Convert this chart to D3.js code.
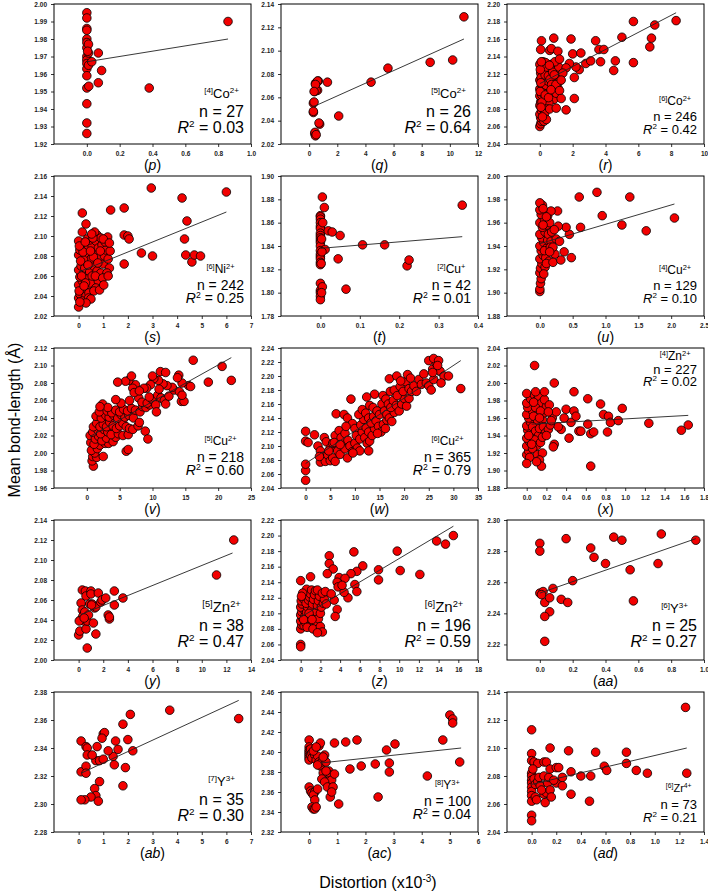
<!DOCTYPE html>
<html><head><meta charset="utf-8">
<script src="https://cdn.jsdelivr.net/npm/d3@7"></script>
<style>html,body{margin:0;padding:0;background:#fff;}svg{display:block;}</style>
</head><body>
<svg id="chart" width="708" height="893"></svg>
<script>
// ---------- data ----------
const panelIds = ['p','q','r','s','t','u','v','w','x','y','z','aa','ab','ac','ad'];
const coordNums = ['4','5','6','6','2','4','5','6','4','5','6','6','7','8','6'];
const elements = ['Co','Co','Co','Ni','Cu','Cu','Cu','Cu','Zn','Zn','Zn','Y','Y','Y','Zr'];
const charges = ['2+','2+','2+','2+','+','2+','2+','2+','2+','2+','2+','3+','3+','3+','4+'];
const nValues = [27,26,246,242,42,129,218,365,227,38,196,25,35,100,73];
const r2Values = ['0.03','0.64','0.42','0.25','0.01','0.10','0.60','0.79','0.02','0.47','0.59','0.27','0.30','0.04','0.21'];

const xDomains = [[-0.2,1.0],[-2,12],[-2,10],[-1,7],[-0.1,0.4],[-0.5,2.5],[-5,25],[-5,35],[-0.2,1.8],[-2,14],[-2,18],[-0.2,1.0],[-1,7],[-1,6],[-0.2,1.4]];
const yDomains = [[1.92,2.00],[2.02,2.14],[2.04,2.20],[2.02,2.16],[1.78,1.90],[1.88,2.00],[1.96,2.12],[2.04,2.24],[1.88,2.04],[2.00,2.14],[2.04,2.22],[2.21,2.30],[2.28,2.38],[2.32,2.46],[2.04,2.14]];
const xTicks = [
  [0,0.2,0.4,0.6,0.8,1.0],[0,2,4,6,8,10,12],[0,2,4,6,8,10],[0,1,2,3,4,5,6,7],[0,0.1,0.2,0.3,0.4],
  [0,0.5,1.0,1.5,2.0,2.5],[0,5,10,15,20,25],[0,5,10,15,20,25,30,35],[0,0.2,0.4,0.6,0.8,1.0,1.2,1.4,1.6,1.8],
  [0,2,4,6,8,10,12,14],[0,2,4,6,8,10,12,14,16,18],[0,0.2,0.4,0.6,0.8,1.0],[0,1,2,3,4,5,6,7],[0,1,2,3,4,5,6],
  [0,0.2,0.4,0.6,0.8,1.0,1.2,1.4]];
const xTickDecimals = [1,0,0,0,1,1,0,0,1,0,0,1,0,0,1];
const yTicks = [
  [1.92,1.93,1.94,1.95,1.96,1.97,1.98,1.99,2.00],
  [2.02,2.04,2.06,2.08,2.10,2.12,2.14],
  [2.04,2.06,2.08,2.10,2.12,2.14,2.16,2.18,2.20],
  [2.02,2.04,2.06,2.08,2.10,2.12,2.14,2.16],
  [1.78,1.80,1.82,1.84,1.86,1.88,1.90],
  [1.88,1.90,1.92,1.94,1.96,1.98,2.00],
  [1.96,1.98,2.00,2.02,2.04,2.06,2.08,2.10,2.12],
  [2.04,2.06,2.08,2.10,2.12,2.14,2.16,2.18,2.20,2.22,2.24],
  [1.88,1.90,1.92,1.94,1.96,1.98,2.00,2.02,2.04],
  [2.00,2.02,2.04,2.06,2.08,2.10,2.12,2.14],
  [2.04,2.06,2.08,2.10,2.12,2.14,2.16,2.18,2.20,2.22],
  [2.22,2.24,2.26,2.28,2.30],
  [2.28,2.30,2.32,2.34,2.36,2.38],
  [2.32,2.34,2.36,2.38,2.40,2.42,2.44,2.46],
  [2.04,2.06,2.08,2.10,2.12,2.14]];

// regression lines: [x0, y0, x1, y1]
const fitLines = [
  [0.0,1.967,0.86,1.980],[0.3,2.052,11.0,2.110],[0.0,2.109,8.3,2.190],[0.0,2.064,6.0,2.124],
  [0.0,1.838,0.36,1.848],[0.0,1.942,2.05,1.976],[0.5,2.019,22.0,2.109],[0.0,2.075,31.5,2.222],
  [0.05,1.953,1.64,1.963],[0.2,2.0455,12.5,2.107],[0.0,2.095,15.5,2.212],[0.0,2.253,0.95,2.288],
  [0.1,2.322,6.5,2.374],[0.4,2.389,5.4,2.404],[0.0,2.074,1.26,2.100]];

const ptsP = [[0,1.995],[0,1.992],[0,1.986],[0,1.985],[0,1.980],[0,1.978],[0,1.975],[0,1.970],[0,1.968],[0,1.966],[0,1.963],[0,1.959],[0,1.952],[0,1.943],[0,1.932],[0,1.926],[0.01,1.977],[0.01,1.972],[0.005,1.973],[0.01,1.965],[0.012,1.953],[0.03,1.967],[0.07,1.972],[0.09,1.962],[0.07,1.955],[0.38,1.952],[0.86,1.990]];
const ptsQ = [[0.3,2.055],[0.3,2.047],[0.4,2.065],[0.45,2.072],[0.6,2.066],[0.65,2.074],[0.4,2.029],[0.45,2.027],[0.75,2.037],[1.3,2.073],[2.1,2.044],[4.4,2.073],[5.6,2.085],[8.6,2.090],[10.2,2.092],[11.0,2.129],[0.35,2.056],[0.5,2.066],[0.55,2.073],[0.3,2.048],[0.42,2.030],[0.7,2.038],[0.6,2.074],[0.45,2.071],[0.35,2.065],[0.5,2.028]];
const ptsR = [[0,2.060],[0.05,2.063],[0.1,2.066],[0.05,2.070],[0,2.074],[0.1,2.078],[0.2,2.072],[0.15,2.081],[0,2.084],[0.05,2.088],[0.2,2.086],[0.3,2.083],[0.1,2.092],[0,2.095],[0.25,2.094],[0.35,2.090],[0.4,2.097],[0.15,2.100],[0,2.103],[0.3,2.102],[0.5,2.100],[0.45,2.105],[0.1,2.108],[0.2,2.111],[0,2.113],[0.6,2.108],[0.55,2.113],[0.35,2.115],[0.15,2.118],[0.05,2.121],[0.7,2.118],[0.8,2.112],[0.9,2.106],[0.75,2.100],[0.65,2.095],[0.85,2.091],[1.0,2.098],[1.1,2.104],[0.95,2.115],[1.05,2.121],[0.4,2.121],[0.25,2.125],[0.1,2.128],[0,2.131],[0.2,2.134],[0.5,2.127],[0.6,2.124],[0.7,2.131],[0.85,2.127],[0.35,2.133],[1.15,2.128],[1.2,2.112],[0.55,2.087],[0.45,2.080],[0.3,2.075],[0.6,2.080],[0.25,2.066],[0.4,2.068],[0.12,2.096],[0.18,2.106],[0.28,2.110],[0.38,2.107],[0.48,2.112],[0.08,2.116],[0.22,2.098],[0.32,2.119],[0.42,2.128],[0.52,2.118],[0.62,2.114],[0.72,2.108],[0.78,2.122],[0.88,2.119],[0.98,2.108],[0.02,2.100],[0.06,2.110],[0.03,2.125],[0.13,2.088],[0.33,2.096],[0.53,2.093],[0.92,2.134],[0.68,2.102],[0.58,2.130],[0.16,2.071],[0.07,2.082],[0.09,2.134],
  [0.1,2.158],[0.05,2.148],[0.85,2.161],[0.6,2.147],[0.7,2.149],[1.1,2.146],[1.9,2.160],[2.0,2.143],[2.5,2.144],[1.2,2.137],[2.8,2.132],[3.1,2.135],[3.4,2.158],[3.6,2.148],[3.7,2.134],[3.9,2.148],[4.5,2.124],[4.6,2.135],[5.0,2.162],[5.7,2.180],[5.7,2.133],[6.7,2.151],[6.8,2.161],[7.0,2.176],[8.3,2.181],[2.1,2.092],[1.6,2.079],[1.0,2.081],[2.4,2.125],[2.2,2.128],[2.1,2.116],[1.8,2.132],[1.6,2.127],[1.4,2.121],[1.3,2.113],[1.2,2.101],[1.3,2.092]];
const ptsS = [[0,2.038],[0.05,2.042],[0.1,2.047],[0,2.051],[0.15,2.055],[0.05,2.059],[0.2,2.062],[0,2.066],[0.1,2.070],[0.25,2.068],[0.3,2.074],[0.15,2.078],[0,2.081],[0.05,2.086],[0.2,2.089],[0.1,2.093],[0,2.095],[0.35,2.082],[0.4,2.088],[0.45,2.064],[0.35,2.057],[0.4,2.049],[0.25,2.045],[0.3,2.040],[0.5,2.053],[0.55,2.060],[0.6,2.070],[0.5,2.077],[0.65,2.083],[0.55,2.090],[0.45,2.096],[0.7,2.095],[0.75,2.101],[0.65,2.104],[0.8,2.088],[0.85,2.078],[0.75,2.065],[0.8,2.055],[0.7,2.048],[0.9,2.063],[1.0,2.072],[1.05,2.080],[0.95,2.091],[1.1,2.086],[1.2,2.077],[1.25,2.068],[1.15,2.063],[0.9,2.098],[0.6,2.079],[0.35,2.097],[0.2,2.076],[0.12,2.060],[0.28,2.053],[0.08,2.075],[0.18,2.084],[0.38,2.071],[0.48,2.085],[0.58,2.098],[0.68,2.060],[0.78,2.073],[0.88,2.085],[0.98,2.058],[1.08,2.094],[1.18,2.099],[1.28,2.085],[0.02,2.045],[0.22,2.050],[0.42,2.043],[0.62,2.045],[0.15,2.035],[0.4,2.038],[0.03,2.090],[0.27,2.094],[0.53,2.102],[0.85,2.046],[1.02,2.051],
  [0.15,2.123],[0.3,2.112],[0.15,2.104],[1.3,2.126],[1.85,2.128],[1.85,2.101],[2.0,2.100],[2.05,2.097],[1.85,2.072],[2.55,2.083],[3.0,2.080],[2.95,2.148],[4.2,2.138],[4.4,2.115],[4.3,2.097],[4.35,2.081],[4.6,2.074],[4.7,2.081],[4.95,2.080],[6.0,2.144],[1.2,2.060],[1.0,2.097],[1.25,2.093],[0.5,2.037],[0.3,2.033],[0,2.029],[0.05,2.034]];
const ptsT = [[0,1.866],[0,1.865],[0,1.863],[0,1.860],[0,1.857],[0,1.855],[0,1.851],[0,1.849],[0,1.847],[0,1.845],[0,1.843],[0,1.840],[0,1.836],[0,1.833],[0,1.831],[0,1.829],[0,1.826],[0,1.824],[0,1.808],[0,1.802],[0,1.800],[0,1.797],[0,1.794],[0.003,1.846],[0.005,1.882],[0.005,1.805],[0.01,1.873],[0.012,1.837],[0.02,1.853],[0.03,1.852],[0.05,1.849],[0.045,1.829],[0.065,1.803],[0.107,1.841],[0.163,1.841],[0.22,1.823],[0.225,1.828],[0.36,1.875],[0.004,1.835],[0.006,1.860],[0.002,1.825],[0.003,1.800]];
const ptsU = [[0,1.901],[0,1.903],[0.01,1.908],[0.02,1.912],[0,1.917],[0.01,1.921],[0.03,1.925],[0,1.929],[0.05,1.932],[0.02,1.936],[0,1.940],[0.06,1.943],[0.03,1.947],[0,1.950],[0.08,1.952],[0.04,1.956],[0,1.960],[0.07,1.963],[0.02,1.967],[0,1.971],[0.04,1.975],[0,1.977],[0.1,1.938],[0.12,1.945],[0.09,1.930],[0.11,1.958],[0.13,1.950],[0.15,1.960],[0.17,1.944],[0.14,1.927],[0.08,1.922],[0.06,1.916],[0.25,1.946],[0.23,1.933],[0.18,1.952],[0.12,1.966],[0.05,1.958],[0.07,1.936],[0.16,1.939],[0.1,1.925],
  [0.6,1.982],[0.87,1.986],[1.37,1.982],[0.95,1.966],[0.62,1.956],[1.25,1.958],[1.62,1.953],[2.05,1.964],[0.48,1.930],[0.45,1.950],[0.4,1.956],[0.37,1.935],[0.3,1.944],[0.28,1.957],[0.27,1.970],[0.17,1.970],[0.22,1.954],[0.2,1.939],[0.2,1.926],[0.15,1.935],[0.05,1.972],[0.1,1.965],[0.32,1.928]];
const ptsV = [[1.0,1.985],[0.8,1.991],[0.9,1.996],[1.5,1.995],[2.5,1.996],[1.2,2.000],[0.7,2.003],[1.6,2.005],[2.0,2.009],[0.6,2.012],[1.1,2.010],[2.8,2.011],[3.3,2.011],[0.5,2.020],[1.3,2.016],[1.8,2.019],[2.3,2.014],[3.0,2.017],[4.0,2.013],[4.4,2.018],[0.9,2.024],[1.7,2.026],[2.1,2.022],[2.6,2.027],[3.2,2.024],[3.7,2.021],[4.8,2.022],[5.5,2.020],[6.3,2.021],[6.0,2.002],[6.3,2.004],[1.0,2.030],[1.5,2.034],[2.0,2.030],[2.5,2.033],[3.0,2.030],[3.5,2.035],[4.0,2.031],[4.5,2.028],[5.0,2.031],[5.5,2.034],[6.0,2.030],[6.5,2.028],[7.0,2.027],[1.4,2.042],[2.2,2.040],[2.9,2.043],[3.4,2.041],[4.1,2.043],[4.7,2.040],[5.2,2.044],[5.8,2.041],[6.4,2.043],[7.1,2.040],[7.8,2.031],[8.0,2.035],[1.9,2.047],[2.4,2.056],[3.1,2.048],[3.8,2.046],[4.4,2.049],[5.0,2.047],[5.6,2.050],[6.2,2.048],[6.8,2.051],[7.4,2.049],[8.1,2.047],[8.5,2.053],[9.0,2.052],[9.6,2.055],[8.9,2.025],[9.3,2.016],[7.9,2.063],[8.4,2.058],[9.2,2.057],[10.0,2.061],[10.5,2.055],[10.8,2.066],[11.3,2.063],[11.8,2.060],[12.0,2.056],[12.5,2.065],[13.3,2.072],[14.1,2.070],[14.4,2.059],[14.8,2.059],[14.5,2.066],[15.5,2.077],[15.8,2.076],[13.0,2.075],[12.2,2.077],[11.6,2.079],[11.0,2.073],[10.9,2.083],[10.2,2.085],[9.7,2.078],[9.1,2.074],[8.7,2.074],[7.4,2.078],[7.0,2.074],[6.4,2.083],[5.9,2.082],[4.7,2.081],[10.6,2.047],[11.2,2.093],[12.0,2.092],[14.5,2.080],[18.5,2.081],[20.6,2.099],[22.0,2.083],[16.2,2.106],[6.8,2.088],[10.0,2.088],[14.0,2.089],[13.8,2.086],[5.2,2.057],[3.2,2.052],[2.0,2.053],[4.4,2.061],[6.5,2.060],[7.2,2.069],[8.0,2.071],[9.5,2.064]];
const ptsW = [[0,2.051],[0,2.065],[0,2.074],[0,2.107],[0,2.121],[0.5,2.105],[1.8,2.116],[2.5,2.100],[3,2.093],[3.5,2.085],[3,2.077],[4,2.078],[4.5,2.087],[5,2.079],[5.5,2.083],[6,2.078],[3.8,2.112],[4.2,2.106],[5,2.097],[5.5,2.104],[6,2.115],[6.5,2.093],[7,2.088],[7.5,2.102],[8,2.096],[8.5,2.083],[6.8,2.122],[7.2,2.112],[8,2.118],[8.6,2.108],[9,2.100],[9.5,2.092],[10,2.104],[10.5,2.097],[6.2,2.146],[7.8,2.145],[8.5,2.140],[9.2,2.167],[9.5,2.132],[10,2.125],[10.3,2.115],[11,2.110],[11.5,2.120],[12,2.112],[12.5,2.104],[11.2,2.130],[11.8,2.138],[12.3,2.126],[12.8,2.120],[13,2.107],[13.5,2.115],[14,2.125],[10.8,2.145],[11.5,2.152],[12.2,2.147],[12.8,2.140],[13.3,2.133],[13.8,2.142],[14.3,2.136],[14.8,2.128],[15.3,2.120],[15.8,2.131],[16.2,2.125],[16.5,2.137],[13,2.158],[13.7,2.155],[14,2.174],[14.5,2.150],[15,2.145],[15.5,2.160],[16,2.150],[16.5,2.145],[17,2.140],[17.5,2.135],[18,2.148],[15.7,2.172],[16.3,2.167],[16.8,2.160],[17.3,2.155],[17.8,2.165],[18.4,2.158],[19,2.150],[19.5,2.160],[20,2.168],[20.5,2.157],[21,2.168],[17.2,2.178],[18,2.180],[18.6,2.172],[19.2,2.185],[19.8,2.178],[20.3,2.192],[21,2.182],[21.5,2.178],[22,2.186],[22.5,2.178],[17,2.196],[18.5,2.200],[19.3,2.193],[20.7,2.202],[21.3,2.197],[23,2.195],[23.5,2.188],[24,2.203],[24.5,2.190],[25,2.186],[25.5,2.180],[26,2.195],[25.8,2.210],[26.5,2.218],[27.3,2.207],[28.1,2.200],[29,2.200],[31.5,2.182],[25,2.222],[26,2.225],[27,2.222],[25.8,2.205],[26.8,2.215],[27.5,2.190],[12.8,2.093],[11,2.093],[9.6,2.090],[2.8,2.085],[4.7,2.093],[5.8,2.105],[12.4,2.170],[14.6,2.118],[8.2,2.128],[7,2.102]];
const ptsX = [[0,1.918],[0.02,1.922],[0,1.928],[0.03,1.933],[0,1.937],[0.05,1.942],[0.01,1.946],[0,1.951],[0.04,1.955],[0.02,1.960],[0,1.964],[0.06,1.968],[0.01,1.972],[0,1.977],[0.04,1.982],[0,1.988],[0.08,1.986],[0.1,1.980],[0.12,1.985],[0.15,1.977],[0.09,1.972],[0.07,1.962],[0.11,1.955],[0.06,1.950],[0.09,1.945],[0.12,1.940],[0.08,1.935],[0.1,1.928],[0.06,1.925],[0.14,1.932],[0.13,1.948],[0.16,1.958],[0.18,1.966],[0.2,1.973],[0.14,1.968],[0.17,1.950],[0.19,1.943],[0.22,1.947],[0.24,1.952],[0.26,1.960],[0.16,1.938],[0.05,1.930],[0.03,1.915],[0.11,1.918],[0.09,1.990],[0.13,1.960],[0.02,1.940],[0.07,1.978],[0.18,1.981],[0.23,1.975],
  [0.08,2.020],[0.28,2.000],[0.18,1.990],[0.48,1.990],[0.62,1.982],[0.75,1.976],[0.78,1.964],[0.83,1.962],[0.85,1.955],[0.97,1.971],[0.93,1.957],[1.24,1.954],[1.57,1.946],[1.64,1.952],[0.62,1.953],[0.65,1.942],[0.68,1.944],[0.82,1.944],[0.65,1.905],[0.53,1.945],[0.4,1.970],[0.43,1.937],[0.45,1.955],[0.38,1.960],[0.35,1.947],[0.3,1.967],[0.28,1.930],[0.27,1.927],[0.2,1.940],[0.16,1.920],[0.13,1.912],[0.15,1.905],[0.1,1.910],[0,1.908],[0.22,1.967],[0.25,1.957],[0.32,1.950],[0.48,1.968],[0.5,1.962],[0.55,1.945]];
const ptsY = [[0,2.025],[0.1,2.029],[0.15,2.040],[0.2,2.057],[0.3,2.050],[0.3,2.070],[0.35,2.044],[0.4,2.039],[0.5,2.048],[0.55,2.069],[0.6,2.064],[0.6,2.031],[0.7,2.039],[0.7,2.012],[0.8,2.045],[0.9,2.056],[1.0,2.069],[1.0,2.066],[1.1,2.056],[1.2,2.037],[1.3,2.052],[1.4,2.053],[1.4,2.026],[1.6,2.067],[1.8,2.058],[1.9,2.060],[2.2,2.062],[2.4,2.045],[2.5,2.041],[2.5,2.043],[2.9,2.069],[2.9,2.055],[3.6,2.062],[11.2,2.085],[12.6,2.120],[0.05,2.039],[0.45,2.042],[1.05,2.055]];
const ptsZ = [[0,2.080],[0.1,2.085],[0,2.090],[0.2,2.094],[0,2.098],[0.1,2.102],[0.3,2.105],[0,2.108],[0.15,2.112],[0.05,2.116],[0.25,2.119],[0.4,2.123],[0.5,2.127],[0.6,2.131],[0.35,2.084],[0.5,2.088],[0.45,2.097],[0.6,2.101],[0.7,2.108],[0.55,2.113],[0.8,2.117],[0.9,2.121],[1.0,2.125],[1.1,2.130],[0.75,2.092],[0.9,2.083],[1.0,2.096],[1.1,2.104],[1.2,2.112],[1.3,2.118],[1.4,2.124],[1.5,2.129],[1.3,2.098],[1.4,2.087],[1.5,2.092],[1.6,2.102],[1.7,2.110],[1.8,2.116],[1.9,2.122],[1.7,2.130],[1.6,2.085],[1.8,2.093],[2.0,2.100],[2.1,2.108],[2.3,2.113],[2.4,2.118],[2.6,2.112],[2.2,2.126],[0.2,2.126],[0.08,2.122],[0.3,2.092],[0.65,2.082],[1.25,2.080],[2.0,2.083],[0.85,2.100],[1.15,2.092],
  [0,2.142],[0,2.060],[0,2.057],[1.0,2.147],[2.9,2.174],[2.9,2.164],[3.3,2.157],[5.4,2.179],[9.8,2.180],[13.8,2.193],[14.7,2.189],[15.5,2.200],[6.3,2.161],[5.7,2.154],[5.1,2.151],[3.9,2.146],[4.5,2.145],[7.9,2.156],[7.9,2.143],[10.1,2.155],[12.1,2.150],[5.5,2.137],[3.7,2.140],[3.8,2.134],[4.8,2.120],[5.7,2.128],[3.4,2.117],[3.7,2.105],[3.5,2.096],[2.2,2.076],[1.7,2.075],[2.5,2.128],[3.1,2.125],[4.4,2.127],[4.2,2.136],[2.7,2.151]];
const ptsAA = [[0,2.285],[0,2.280],[0.16,2.288],[0.31,2.282],[0.33,2.276],[0.45,2.289],[0.5,2.287],[0.4,2.272],[0.55,2.268],[0.74,2.291],[0.72,2.272],[0.95,2.287],[0,2.253],[0.02,2.254],[0.08,2.256],[0.2,2.261],[0.03,2.247],[0.06,2.250],[0.13,2.249],[0.17,2.247],[0.06,2.241],[0.03,2.238],[0.57,2.248],[0.03,2.222],[0.01,2.252]];
const ptsAB = [[0.1,2.345],[0.3,2.341],[0.35,2.340],[0.75,2.341],[1.0,2.350],[1.05,2.351],[1.5,2.345],[1.6,2.339],[1.8,2.357],[2.0,2.346],[2.1,2.364],[2.2,2.338],[3.7,2.367],[6.5,2.361],[0.1,2.323],[0.35,2.335],[0.3,2.327],[0.3,2.322],[0.7,2.331],[0.85,2.331],[1.0,2.332],[1.4,2.334],[1.45,2.328],[1.9,2.326],[0.85,2.316],[0.65,2.311],[0.7,2.306],[0.5,2.305],[0.25,2.303],[0.1,2.303],[0.8,2.302],[1.8,2.313],[1.2,2.338],[0.55,2.335],[0.95,2.347]];
const ptsAC = [[0,2.412],[0,2.405],[0,2.402],[0,2.400],[0,2.398],[0,2.396],[0,2.394],[0,2.392],[0.05,2.403],[0.05,2.397],[0.1,2.399],[0.1,2.394],[0.2,2.397],[0.25,2.392],[0.3,2.396],[0.35,2.390],[0.35,2.406],[0.4,2.386],[0.45,2.390],[0.55,2.397],[0.6,2.390],[0.5,2.395],[0.3,2.387],[0.15,2.401],[0.7,2.381],[0.75,2.377],[0.7,2.371],[0.8,2.372],[0.5,2.379],[0.45,2.373],[0.55,2.370],[0.65,2.365],[0.85,2.365],[0.75,2.355],[0.8,2.360],[0,2.365],[0.05,2.361],[0.1,2.359],[0.2,2.360],[0.15,2.357],[0.2,2.352],[0.1,2.345],[0.15,2.343],[0.2,2.343],[0.25,2.345],[1.05,2.348],[0.9,2.409],[1.3,2.410],[1.7,2.412],[1.45,2.383],[1.85,2.386],[2.35,2.388],[2.45,2.355],[2.75,2.402],[2.85,2.380],[2.85,2.389],[3.05,2.408],[4.2,2.376],[4.75,2.412],[5.0,2.437],[5.1,2.433],[5.1,2.429],[5.35,2.390],[0.4,2.409],[0.25,2.405],[0.6,2.381],[0.3,2.363],[0.9,2.378]];
const ptsAD = [[0,2.113],[0,2.096],[0,2.091],[0,2.082],[0,2.080],[0,2.077],[0,2.075],[0,2.072],[0,2.069],[0,2.066],[0,2.062],[0,2.052],[0,2.048],[0.02,2.090],[0.02,2.078],[0.03,2.074],[0.03,2.065],[0.04,2.063],[0.05,2.089],[0.05,2.076],[0.06,2.079],[0.07,2.073],[0.1,2.090],[0.1,2.080],[0.1,2.067],[0.11,2.061],[0.12,2.090],[0.12,2.068],[0.13,2.075],[0.14,2.079],[0.15,2.100],[0.15,2.085],[0.15,2.070],[0.16,2.065],[0.2,2.086],[0.2,2.075],[0.22,2.086],[0.25,2.079],[0.25,2.073],[0.3,2.098],[0.32,2.083],[0.32,2.067],[0.4,2.080],[0.47,2.062],[0.48,2.080],[0.52,2.097],[0.59,2.087],[0.61,2.084],[0.77,2.097],[0.77,2.089],[0.85,2.084],[0.94,2.082],[1.25,2.129],[1.26,2.082],[0.01,2.085],[0.08,2.070],[0.18,2.077]];
const panelPoints = [ptsP,ptsQ,ptsR,ptsS,ptsT,ptsU,ptsV,ptsW,ptsX,ptsY,ptsZ,ptsAA,ptsAB,ptsAC,ptsAD];

// ---------- layout / style ----------
const colLeft = [54, 281, 507];
const rowTop = [4, 176, 348, 520, 692];
const pw = 197, ph = 140;
// annotation styles: [labelSize, textSize, labelBaseline, nBaseline, rBaseline] (relative to panel top)
const annot = [
  [13,16,94,113,129],[13,16,94,113,129],[12,13,101,117,130],
  [12,14,97,114,127],[12,14,97,114,127],[12,13,98,114,127],
  [12,14,97,114,127],[12,14,97,114,127],[12,13,12,26,38],
  [15,16,92,111,127],[15,16,92,111,127],[13,16,93,111,127],
  [13,16,94,113,129],[12,14,97,114,127],[11,13,100,117,130]];

const svg = d3.select('#chart');
const FONT = "'Liberation Sans Narrow','Liberation Sans',Arial,sans-serif";
const TICKFONT = "'Liberation Sans',Arial,sans-serif";

panelIds.forEach((id, i) => {
  const col = i % 3, row = Math.floor(i / 3);
  const x0 = colLeft[col], y0 = rowTop[row];
  const g = svg.append('g').attr('transform', `translate(${x0},${y0})`);
  const xs = d3.scaleLinear().domain(xDomains[i]).range([0, pw]);
  const ys = d3.scaleLinear().domain(yDomains[i]).range([ph, 0]);

  const clipId = 'clip' + i;
  g.append('clipPath').attr('id', clipId).append('rect').attr('width', pw).attr('height', ph);

  // axes
  const xa = d3.axisBottom(xs).tickValues(xTicks[i]).tickSize(3).tickSizeOuter(0)
     .tickFormat(d3.format('.' + xTickDecimals[i] + 'f'));
  const ya = d3.axisLeft(ys).tickValues(yTicks[i]).tickSize(3).tickSizeOuter(0)
     .tickFormat(d3.format('.2f'));
  const gx = g.append('g').attr('transform', `translate(0,${ph})`).call(xa);
  const gy = g.append('g').call(ya);
  [gx, gy].forEach(a => {
    a.select('.domain').remove();
    a.selectAll('text').attr('font-family', TICKFONT).attr('font-size', 6.5).attr('font-weight', 'bold').attr('fill', '#222');
    a.selectAll('line').attr('stroke', '#000').attr('stroke-width', 0.8);
  });
  gx.selectAll('text').attr('dy', '0.9em');
  gy.selectAll('text').attr('dx', '-1');

  // points
  const pg = g.append('g').attr('clip-path', `url(#${clipId})`);
  pg.selectAll('circle').data(panelPoints[i]).join('circle')
    .attr('cx', d => xs(d[0])).attr('cy', d => ys(d[1])).attr('r', 4.3)
    .attr('fill', '#f20000').attr('stroke', '#000').attr('stroke-width', 0.8);

  // regression line
  const fl = fitLines[i];
  pg.append('line').attr('x1', xs(fl[0])).attr('y1', ys(fl[1])).attr('x2', xs(fl[2])).attr('y2', ys(fl[3]))
    .attr('stroke', '#222').attr('stroke-width', 0.9);

  // frame
  g.append('rect').attr('width', pw).attr('height', ph).attr('fill', 'none').attr('stroke', '#000').attr('stroke-width', 1);

  // annotation
  const a = annot[i];
  const xr = pw - 7;
  const nText = g.append('text').attr('x', xr).attr('y', a[3]).attr('text-anchor', 'end')
    .attr('font-family', FONT).attr('font-size', a[1]).text('n = ' + nValues[i]);
  const rText = g.append('text').attr('x', xr).attr('y', a[4]).attr('text-anchor', 'end')
    .attr('font-family', FONT).attr('font-size', a[1]);
  rText.append('tspan').attr('font-style', 'italic').text('R');
  rText.append('tspan').attr('font-size', a[1] * 0.62).attr('dy', -a[1] * 0.36).text('2');
  rText.append('tspan').attr('dy', a[1] * 0.36).text(' = ' + r2Values[i]);
  const nw = nText.node().getComputedTextLength();
  const lab = g.append('text').attr('x', xr - nw / 2).attr('y', a[2]).attr('text-anchor', 'middle')
    .attr('font-family', FONT).attr('font-size', a[0]);
  lab.append('tspan').attr('font-size', a[0] * 0.62).attr('dy', -a[0] * 0.36).text('[' + coordNums[i] + ']');
  lab.append('tspan').attr('dy', a[0] * 0.36).text(elements[i]);
  lab.append('tspan').attr('font-size', a[0] * 0.62).attr('dy', -a[0] * 0.36).text(charges[i]);

  // panel letter
  const pl = g.append('text').attr('x', pw / 2).attr('y', ph + 26).attr('text-anchor', 'middle')
    .attr('font-family', FONT).attr('font-size', 14);
  pl.append('tspan').text('(');
  pl.append('tspan').attr('font-style', 'italic').text(id);
  pl.append('tspan').text(')');
});

// axis titles
svg.append('text').attr('transform', 'translate(20,420) rotate(-90)').attr('text-anchor', 'middle')
  .attr('font-family', "'Liberation Sans',Arial,sans-serif").attr('font-size', 16).text('Mean bond-length (Å)');
const xt = svg.append('text').attr('x', 378).attr('y', 888).attr('text-anchor', 'middle')
  .attr('font-family', "'Liberation Sans',Arial,sans-serif").attr('font-size', 16);
xt.append('tspan').text('Distortion (x10');
xt.append('tspan').attr('font-size', 10).attr('dy', -6).text('-3');
xt.append('tspan').attr('dy', 6).text(')');
</script>
</body></html>
